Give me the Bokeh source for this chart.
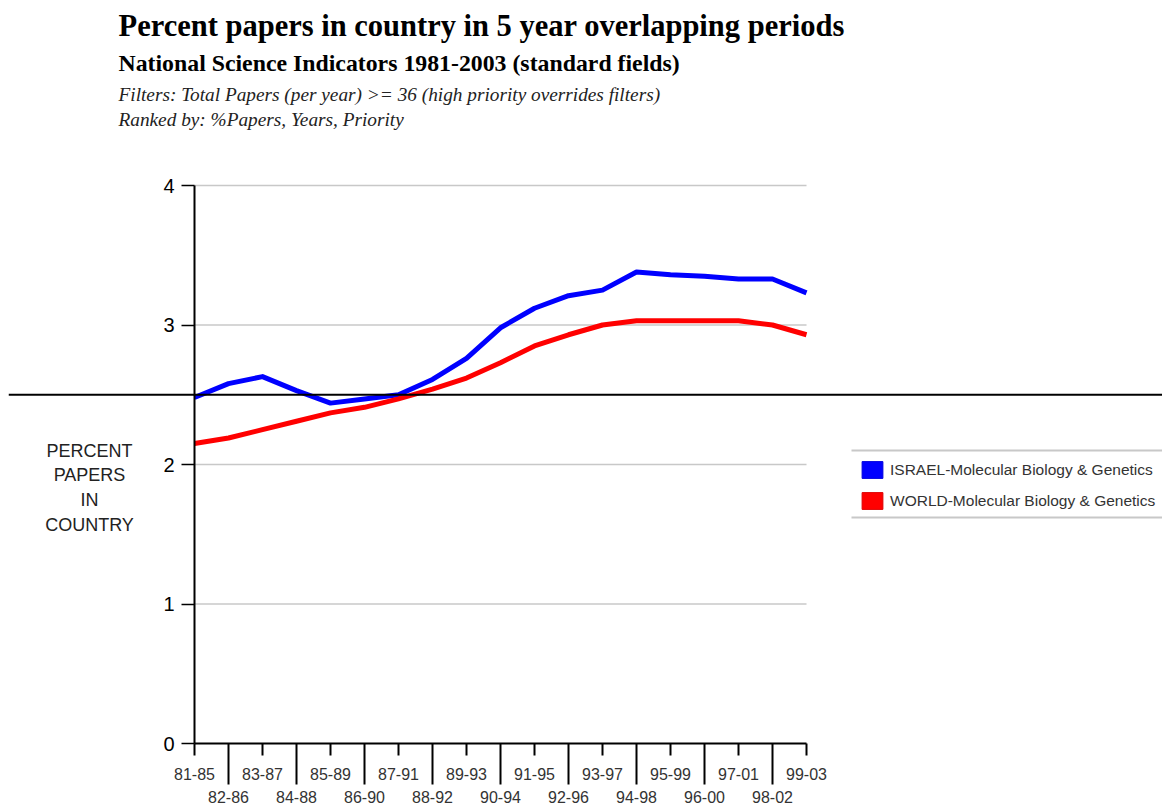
import math
from bokeh.plotting import figure
from bokeh.models import (Range1d, LinearAxis, FixedTicker, Span, Label,
                          Legend, LegendItem, ColumnDataSource)
from bokeh.embed import file_html
from bokeh.resources import INLINE

# ---------------- data ----------------
periods = ["81-85", "82-86", "83-87", "84-88", "85-89", "86-90", "87-91", "88-92",
           "89-93", "90-94", "91-95", "92-96", "93-97", "94-98", "95-99", "96-00",
           "97-01", "98-02", "99-03"]
israel = [2.48, 2.58, 2.63, 2.53, 2.44, 2.47, 2.50, 2.61, 2.76, 2.98, 3.12, 3.21,
          3.25, 3.38, 3.36, 3.35, 3.33, 3.33, 3.23]
world = [2.15, 2.19, 2.25, 2.31, 2.37, 2.41, 2.47, 2.54, 2.62, 2.73, 2.85, 2.93,
         3.00, 3.03, 3.03, 3.03, 3.03, 3.00, 2.93]
y_ticks = [0, 1, 2, 3, 4]
series_names = ["ISRAEL-Molecular Biology & Genetics", "WORLD-Molecular Biology & Genetics"]
series_colors = ["#0000ff", "#ff0000"]
ref_level = 2.5

title = "Percent papers in country in 5 year overlapping periods"
subtitle = "National Science Indicators 1981-2003 (standard fields)"
note1 = "Filters: Total Papers (per year) >= 36  (high priority overrides filters)"
note2 = "Ranked by: %Papers, Years, Priority"
ylabel_lines = ["PERCENT", "PAPERS", "IN", "COUNTRY"]

# ---------------- layout ----------------
LEFT, TOP = 8, 8
W, H = 1162, 805
FRAME_W = W - LEFT          # 1154
PX_X = 34.0                 # px per category
PX_Y = 139.5                # px per percent unit
ZERO_X = 194                # page x of first category
ZERO_Y = 743                # page y of value 0
FRAME_BOTTOM = H            # page y of frame bottom

idx = list(range(len(periods)))
src = ColumnDataSource(data=dict(i=idx, israel=israel, world=world))

x0 = ZERO_X - LEFT
p = figure(width=W, height=H,
           x_range=Range1d(-x0 / PX_X, (FRAME_W - x0) / PX_X),
           y_range=Range1d(-(FRAME_BOTTOM - ZERO_Y) / PX_Y, (ZERO_Y - TOP) / PX_Y),
           x_axis_type=None, y_axis_type=None,
           toolbar_location=None, output_backend="svg",
           min_border_left=LEFT, min_border_right=0, min_border_top=TOP,
           min_border_bottom=0, outline_line_color=None,
           background_fill_color="white", border_fill_color="white")

def px2x(px):
    return (px - ZERO_X) / PX_X

def py2y(py):
    return (ZERO_Y - py) / PX_Y

def sx(px):
    return px - LEFT

def sy(py):
    return FRAME_BOTTOM - py

# horizontal grid lines, only across the category span
g = y_ticks[1:]
p.segment(x0=[idx[0]] * len(g), x1=[idx[-1]] * len(g), y0=g, y1=g,
          line_color="#c8c8c8", line_width=1.5)

# reference horizontal line across the page
p.add_layout(Span(location=ref_level, dimension="width", line_color="black",
                  line_width=2))

# data lines
p.line(x="i", y="israel", source=src, line_color=series_colors[0], line_width=5,
       line_join="round")
p.line(x="i", y="world", source=src, line_color=series_colors[1], line_width=5,
       line_join="round")

# axes
even = [i for i in idx if i % 2 == 0]
odd = [i for i in idx if i % 2 == 1]

def x_axis(ticks, tick_out, standoff, line_color):
    return LinearAxis(fixed_location=0, bounds=(idx[0], idx[-1]),
                      ticker=FixedTicker(ticks=ticks),
                      major_label_overrides={i: periods[i] for i in ticks},
                      major_tick_out=tick_out, major_tick_in=0,
                      major_tick_line_width=2, major_tick_line_color="black",
                      minor_tick_line_color=None,
                      axis_line_color=line_color, axis_line_width=2,
                      major_label_standoff=standoff,
                      major_label_text_font="Liberation Sans",
                      major_label_text_font_size="16px",
                      major_label_text_color="#333333")

p.add_layout(x_axis(odd, 41, 6, None), "below")
p.add_layout(x_axis(even, 12, 12, "black"), "below")

ya = LinearAxis(fixed_location=0, bounds=(y_ticks[0], y_ticks[-1]),
                ticker=FixedTicker(ticks=y_ticks),
                major_tick_out=13, major_tick_in=0,
                major_tick_line_width=1.5, major_tick_line_color="black",
                minor_tick_line_color=None,
                axis_line_color="black", axis_line_width=2,
                major_label_standoff=7,
                major_label_text_baseline="alphabetic",
                major_label_text_font="Liberation Sans",
                major_label_text_font_size="20px",
                major_label_text_color="black")
p.add_layout(ya, "left")

# y axis label (horizontal, multi-line)
for k, t in enumerate(ylabel_lines):
    p.add_layout(Label(x=sx(89), y=sy(450 + 24.8 * k), x_units="screen", y_units="screen",
                       text=t, text_align="center", text_baseline="middle",
                       text_font="Liberation Sans", text_font_size="18px",
                       text_color="#222222"))

# titles
def head(text, py, size, style, color="black"):
    p.add_layout(Label(x=sx(118), y=sy(py), x_units="screen", y_units="screen", text=text,
                       text_font="Liberation Serif", text_font_size=size,
                       text_font_style=style, text_baseline="middle", text_color=color))

head(title, 25, "30.5px", "bold")
head(subtitle, 62, "23.8px", "bold")
head(note1, 94, "19.3px", "italic", "#222222")
head(note2, 119, "19.3px", "italic", "#222222")

# legend
nan = math.nan
qb = p.quad(left=[nan], right=[nan], top=[nan], bottom=[nan], fill_color=series_colors[0],
            line_color="#0000dd")
qr = p.quad(left=[nan], right=[nan], top=[nan], bottom=[nan], fill_color=series_colors[1],
            line_color="#dd0000")
legend = Legend(items=[LegendItem(label=series_names[0], renderers=[qb]),
                       LegendItem(label=series_names[1], renderers=[qr])],
                location=(851, 294), border_line_color=None,
                background_fill_color=None, padding=8, spacing=10, margin=0,
                glyph_width=26, glyph_height=21, label_height=21, label_standoff=5,
                label_text_font="Liberation Sans", label_text_font_size="15.5px",
                label_text_color="#333333")
p.add_layout(legend)

p.segment(x0=[px2x(851)] * 2, x1=[px2x(1170)] * 2,
          y0=[py2y(450), py2y(517)], y1=[py2y(450), py2y(517)],
          line_color="#c8c8c8", line_width=2)

open("out.html", "w").write(file_html(p, INLINE))
